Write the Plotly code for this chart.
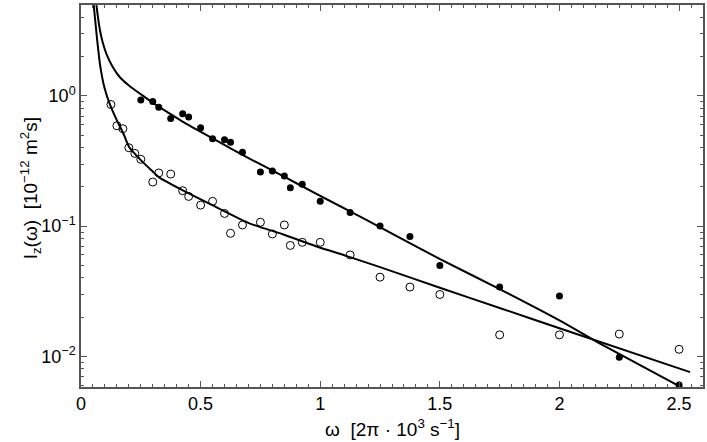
import plotly.graph_objects as go

# --- data ---
filled_x = [0.25, 0.30, 0.325, 0.375, 0.425, 0.45, 0.5, 0.55, 0.6, 0.625, 0.675,
            0.75, 0.80, 0.85, 0.875, 0.925, 1.0, 1.125, 1.25, 1.375, 1.5, 1.75,
            2.0, 2.25, 2.5]
filled_y = [0.93, 0.905, 0.82, 0.67, 0.73, 0.69, 0.57, 0.47, 0.46, 0.44, 0.37,
            0.26, 0.265, 0.243, 0.197, 0.21, 0.155, 0.127, 0.10, 0.083, 0.0497,
            0.034, 0.029, 0.0098, 0.006]

open_x = [0.125, 0.15, 0.175, 0.2, 0.225, 0.25, 0.30, 0.325, 0.375, 0.425, 0.45,
          0.5, 0.55, 0.6, 0.625, 0.675, 0.75, 0.80, 0.85, 0.875, 0.925, 1.0,
          1.125, 1.25, 1.375, 1.5, 1.75, 2.0, 2.25, 2.5]
open_y = [0.86, 0.59, 0.56, 0.40, 0.362, 0.326, 0.218, 0.256, 0.251, 0.187, 0.169,
          0.145, 0.155, 0.125, 0.088, 0.102, 0.107, 0.087, 0.102, 0.071, 0.075, 0.075,
          0.060, 0.0405, 0.034, 0.0298, 0.0146, 0.0146, 0.0148, 0.0113]

# fitted curves
fit_filled_x = [0.0646, 0.0708, 0.0792, 0.0917, 0.1083, 0.1333, 0.1625, 0.2042, 0.25,
                0.30, 0.3625, 0.4263, 0.5654, 0.7042, 0.8429, 0.9821, 1.1208, 1.2492,
                1.4988, 1.75, 2.0, 2.1542, 2.5583]
fit_filled_y = [4.99, 4.03, 3.20, 2.54, 2.056, 1.663, 1.393, 1.187, 1.031,
                0.8866, 0.749, 0.633, 0.456, 0.330, 0.2433, 0.1775, 0.1309, 0.0981,
                0.0560, 0.03276, 0.01882, 0.01297, 0.005163]

fit_open_x = [0.053, 0.067, 0.080, 0.099, 0.122, 0.15, 0.178, 0.201, 0.251, 0.2875,
              0.325, 0.426, 0.565, 0.704, 0.843, 0.982, 1.121, 1.25, 1.5, 1.75, 2.0, 2.546]
fit_open_y = [5.0, 2.76, 1.72, 1.14, 0.85, 0.65, 0.51, 0.405, 0.32, 0.276,
              0.238, 0.188, 0.14, 0.105, 0.0865, 0.070, 0.058, 0.0484, 0.0336, 0.0235, 0.0164, 0.00755]

y_major = [0.01, 0.1, 1]
y_major_text = ["10<sup>−2</sup>", "10<sup>−1</sup>", "10<sup>0</sup>"]
y_minor = [0.006, 0.007, 0.008, 0.009,
           0.02, 0.03, 0.04, 0.05, 0.06, 0.07, 0.08, 0.09,
           0.2, 0.3, 0.4, 0.5, 0.6, 0.7, 0.8, 0.9,
           2, 3, 4, 5]
x_ticks = [0, 0.5, 1, 1.5, 2, 2.5]
x_tick_text = ["0", "0.5", "1", "1.5", "2", "2.5"]

FONT = "Liberation Sans, Arial, sans-serif"
AX = "#555555"

fig = go.Figure()
fig.add_trace(go.Scatter(x=fit_filled_x, y=fit_filled_y, mode="lines",
                         line=dict(color="black", width=2, shape="spline", smoothing=0.6),
                         showlegend=False, hoverinfo="skip"))
fig.add_trace(go.Scatter(x=fit_open_x, y=fit_open_y, mode="lines",
                         line=dict(color="black", width=2, shape="spline", smoothing=0.6),
                         showlegend=False, hoverinfo="skip"))
fig.add_trace(go.Scatter(x=filled_x, y=filled_y, mode="markers",
                         marker=dict(symbol="circle", size=7, color="black"),
                         showlegend=False))
fig.add_trace(go.Scatter(x=open_x, y=open_y, mode="markers",
                         marker=dict(symbol="circle-open", size=8, color="black",
                                     line=dict(width=1, color="black")),
                         showlegend=False))

fig.update_layout(
    width=707, height=442, autosize=False,
    margin=dict(l=81, r=2, t=5, b=55),
    paper_bgcolor="white", plot_bgcolor="white",
    font=dict(family=FONT, size=18, color="black"),
    xaxis=dict(range=[0, 2.6], tickmode="array", tickvals=x_ticks, ticktext=x_tick_text,
               ticks="inside", ticklen=6, tickwidth=1, tickcolor=AX,
               showline=True, linecolor=AX, linewidth=1.5, mirror="ticks",
               showgrid=False, zeroline=False,
               minor=dict(dtick=0.05, ticks="inside", ticklen=3, tickwidth=1, tickcolor=AX,
                          showgrid=False),
               tickfont=dict(size=18)),
    yaxis=dict(type="log", range=[-2.2366, 0.699], tickmode="array",
               tickvals=y_major, ticktext=y_major_text,
               ticks="inside", ticklen=6, tickwidth=1, tickcolor=AX,
               showline=True, linecolor=AX, linewidth=1.5, mirror="ticks",
               showgrid=False, zeroline=False,
               minor=dict(tickmode="array", tickvals=y_minor, ticks="inside", ticklen=3,
                          tickwidth=1, tickcolor=AX, showgrid=False),
               tickfont=dict(size=18)),
    annotations=[
        dict(text="ω\u00a0\u00a0[2π · 10<sup>3</sup> s<sup>−1</sup>]",
             xref="paper", yref="paper", x=0.5, y=-0.107, xanchor="center", yanchor="middle",
             showarrow=False, font=dict(family=FONT, size=19)),
        dict(text="I<sub>z</sub>(ω)\u00a0\u00a0[10<sup>−12</sup> m<sup>2</sup>s]",
             xref="paper", yref="paper", x=-0.082, y=0.52, xanchor="center", yanchor="middle",
             textangle=-90, showarrow=False, font=dict(family=FONT, size=19)),
    ],
)

fig.write_html(
    "out.html",
    config={"displayModeBar": False},
    post_script="document.body.style.margin='0';document.body.style.padding='0';",
)
